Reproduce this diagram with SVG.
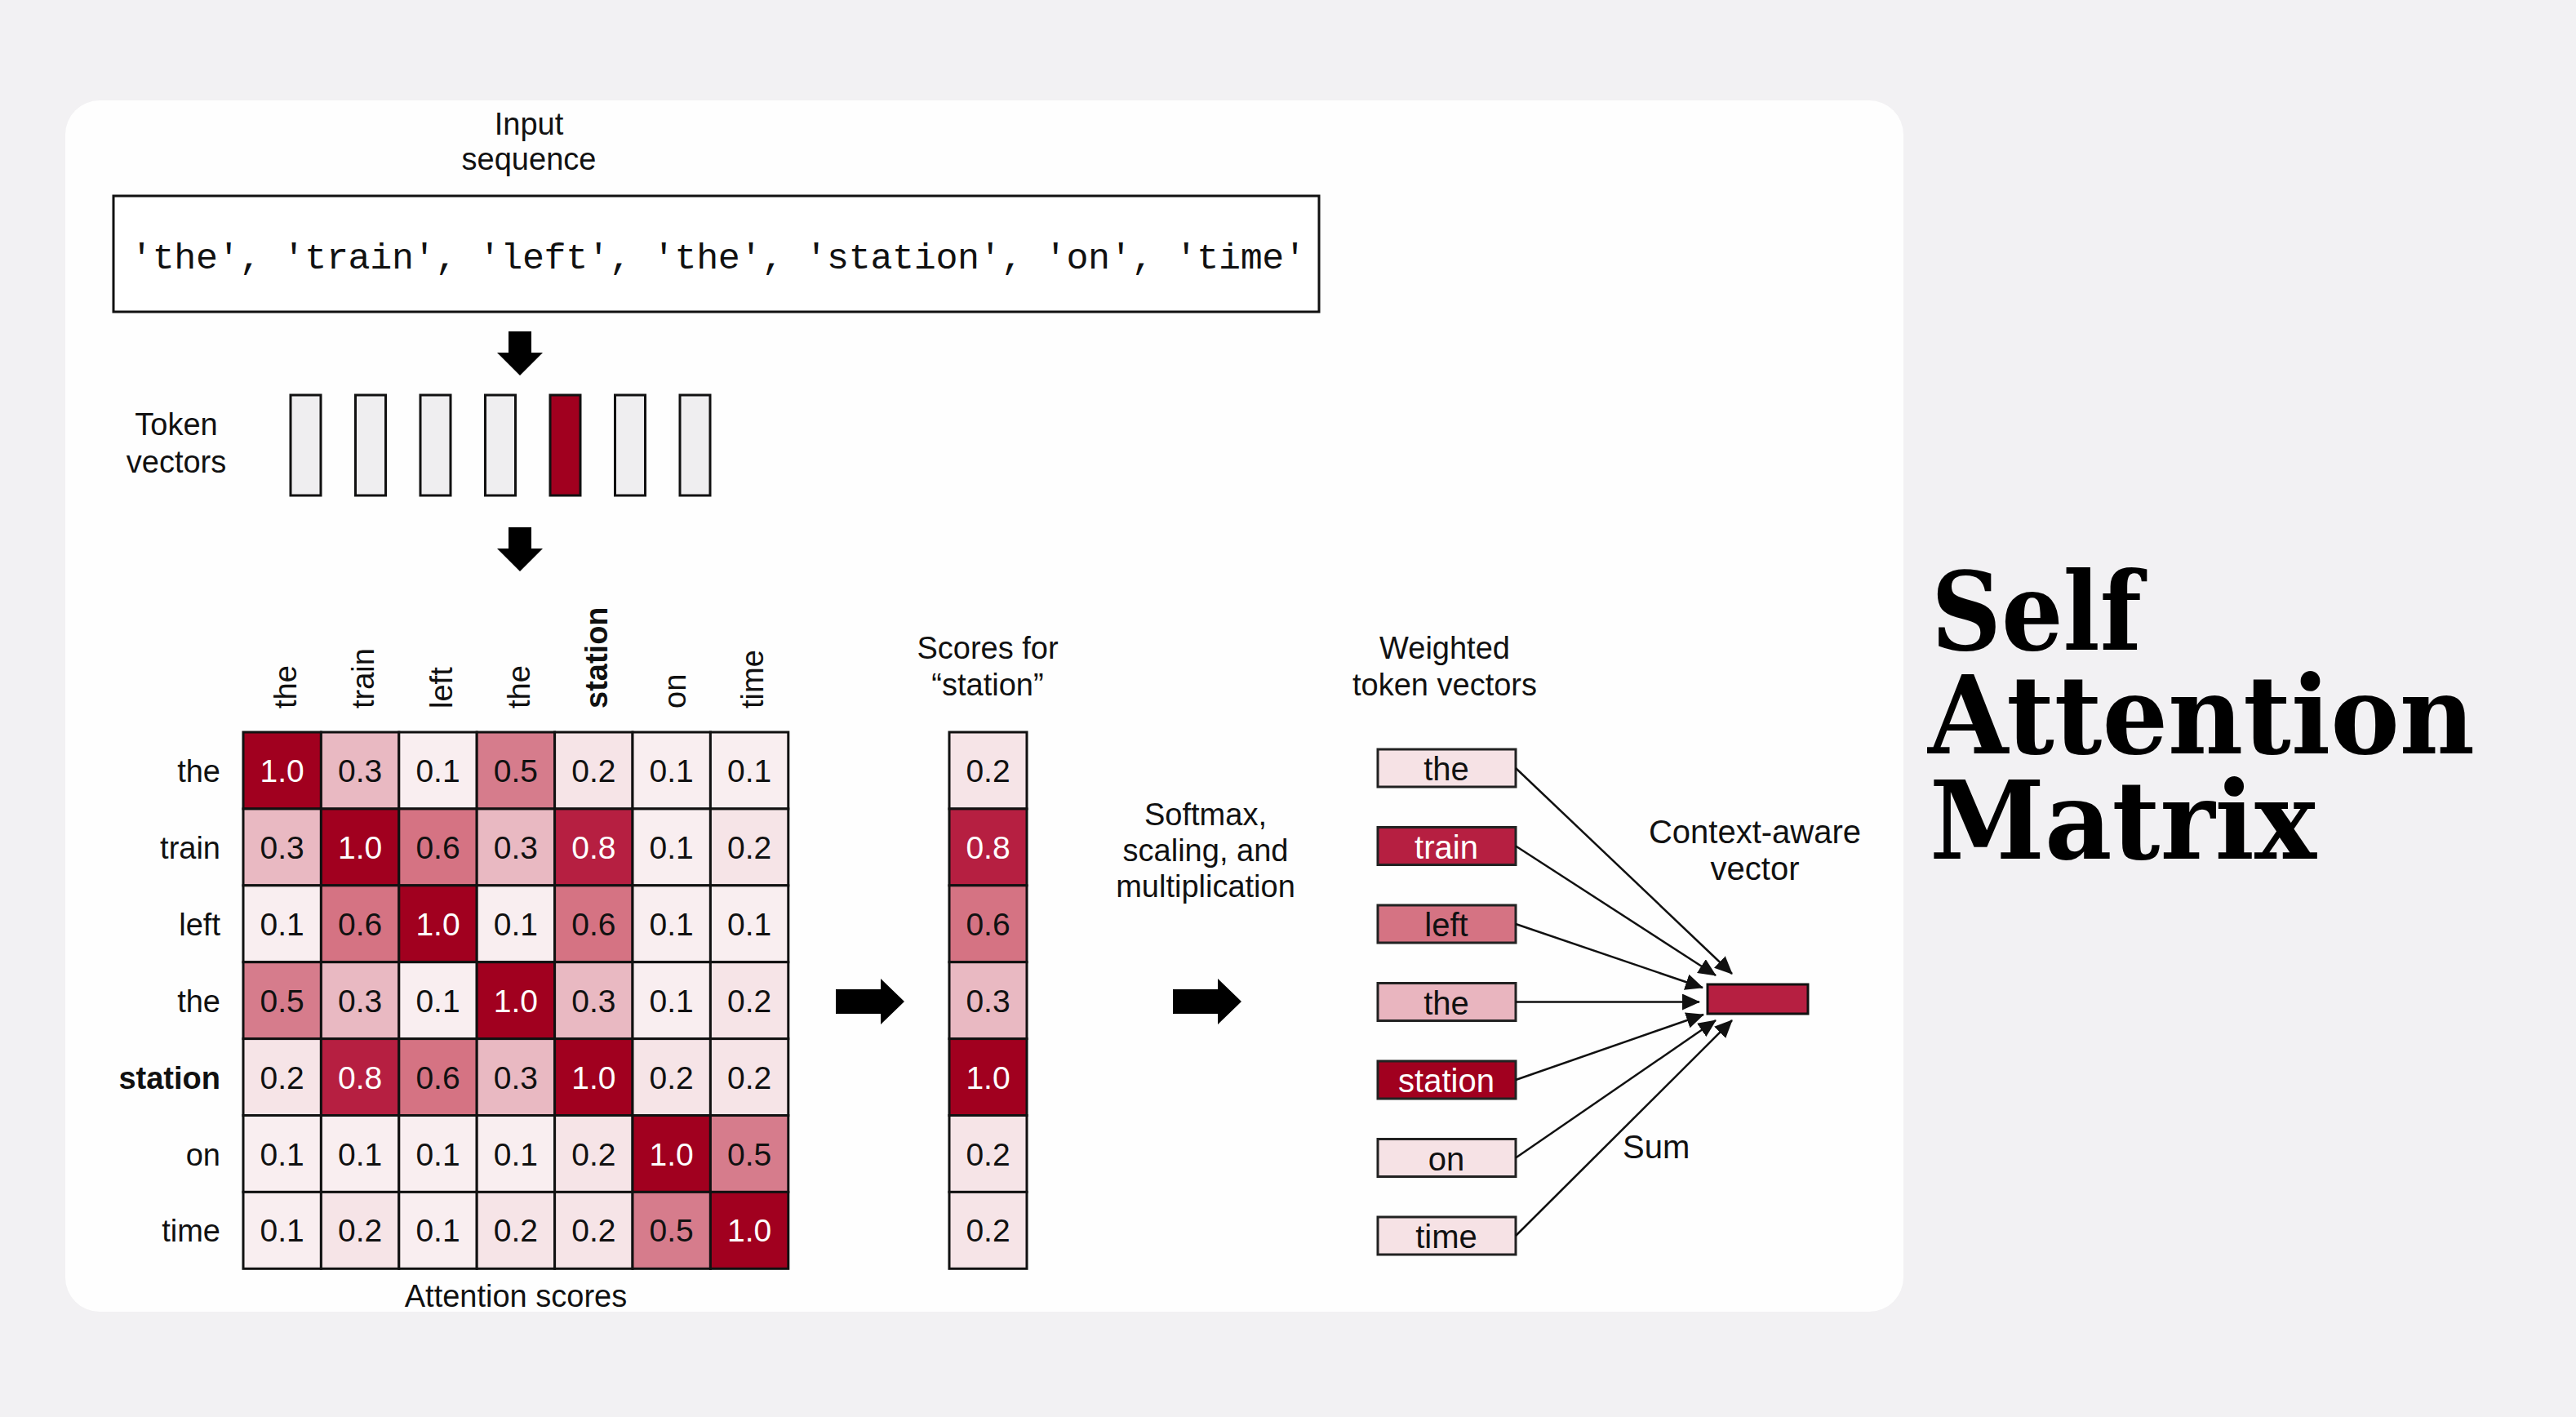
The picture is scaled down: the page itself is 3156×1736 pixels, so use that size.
<svg xmlns="http://www.w3.org/2000/svg" width="3156" height="1736" viewBox="0 0 3156 1736">
<defs>
<style>
text{font-family:"Liberation Sans",Arial,sans-serif;fill:#111;}
.lbl{font-size:38px;text-anchor:middle;}
.rl{font-size:38px;text-anchor:end;}
.ch{font-size:38px;}
.b{font-weight:bold;}
.num{font-size:39px;text-anchor:middle;}
.w{fill:#fff;}
.c{stroke:#111;stroke-width:3;}
.v10{fill:#a1001f;}
.v08{fill:#b61f41;}
.v06{fill:#d57383;}
.v05{fill:#d67c8c;}
.v03{fill:#e9b9c2;}
.v02{fill:#f6e4e7;}
.v01{fill:#f9eef0;}
.tv{fill:#efeef0;stroke:#111;stroke-width:3;}
.wb{stroke:#222;stroke-width:3;}
.wt{font-size:40px;text-anchor:middle;}
.conn{stroke:#111;stroke-width:2.5;fill:none;marker-end:url(#ah);}
.title{font-family:"DejaVu Serif","Liberation Serif",serif;font-weight:bold;font-size:132px;fill:#000;}
</style>
<marker id="ah" markerUnits="userSpaceOnUse" markerWidth="22" markerHeight="20" viewBox="0 0 22 20" refX="21" refY="10" orient="auto">
<path d="M0,0 L22,10 L0,20 Z" fill="#111"/>
</marker>
</defs>
<rect x="0" y="0" width="3156" height="1736" fill="#f2f1f3"/>
<rect id="card" x="80" y="123" width="2252" height="1484" rx="42" ry="42" fill="#fefefe"/>

<g id="input-label">
<text class="lbl" x="648" y="165">Input</text>
<text class="lbl" x="648" y="208">sequence</text>
</g>
<g id="input-sequence">
<rect x="139" y="240" width="1477" height="142" fill="#fff" stroke="#111" stroke-width="3"/>
<text x="160" y="329" textLength="1440" lengthAdjust="spacing" style="font-family:'Liberation Mono','Courier New',monospace;font-size:45px;">'the', 'train', 'left', 'the', 'station', 'on', 'time'</text>
</g>

<g id="arrow-down-1">
<path d="M623,406 H651 V432 H665 L637,460 L609,432 H623 Z" fill="#000"/>
</g>

<g id="token-vectors-label">
<text class="lbl" x="216" y="533">Token</text>
<text class="lbl" x="216" y="579">vectors</text>
</g>
<g id="token-vectors">
<rect class="tv" x="356" y="484" width="37" height="123"/>
<rect class="tv" x="435.5" y="484" width="37" height="123"/>
<rect class="tv" x="515" y="484" width="37" height="123"/>
<rect class="tv" x="594.5" y="484" width="37" height="123"/>
<rect class="tv" x="674" y="484" width="37" height="123" style="fill:#a1001f"/>
<rect class="tv" x="753.5" y="484" width="37" height="123"/>
<rect class="tv" x="833" y="484" width="37" height="123"/>
</g>

<g id="arrow-down-2">
<path d="M623,646 H651 V672 H665 L637,700 L609,672 H623 Z" fill="#000"/>
</g>

<g id="column-headers">
<text class="ch" transform="translate(362.7,868) rotate(-90)">the</text>
<text class="ch" transform="translate(458.1,868) rotate(-90)">train</text>
<text class="ch" transform="translate(553.5,868) rotate(-90)">left</text>
<text class="ch" transform="translate(648.9,868) rotate(-90)">the</text>
<text class="ch b" transform="translate(744.3,868) rotate(-90)">station</text>
<text class="ch" transform="translate(839.7,868) rotate(-90)">on</text>
<text class="ch" transform="translate(935.1,868) rotate(-90)">time</text>
</g>

<g id="row-headers">
<text class="rl" x="270" y="958">the</text>
<text class="rl" x="270" y="1051.9">train</text>
<text class="rl" x="270" y="1145.8">left</text>
<text class="rl" x="270" y="1239.7">the</text>
<text class="rl b" x="270" y="1333.6">station</text>
<text class="rl" x="270" y="1427.5">on</text>
<text class="rl" x="270" y="1521.4">time</text>
</g>

<g id="attention-matrix">
<rect class="c v10" x="298" y="897" width="95.4" height="93.9"/>
<rect class="c v03" x="393.4" y="897" width="95.4" height="93.9"/>
<rect class="c v01" x="488.8" y="897" width="95.4" height="93.9"/>
<rect class="c v05" x="584.2" y="897" width="95.4" height="93.9"/>
<rect class="c v02" x="679.6" y="897" width="95.4" height="93.9"/>
<rect class="c v01" x="775" y="897" width="95.4" height="93.9"/>
<rect class="c v01" x="870.4" y="897" width="95.4" height="93.9"/>
<rect class="c v03" x="298" y="990.9" width="95.4" height="93.9"/>
<rect class="c v10" x="393.4" y="990.9" width="95.4" height="93.9"/>
<rect class="c v06" x="488.8" y="990.9" width="95.4" height="93.9"/>
<rect class="c v03" x="584.2" y="990.9" width="95.4" height="93.9"/>
<rect class="c v08" x="679.6" y="990.9" width="95.4" height="93.9"/>
<rect class="c v01" x="775" y="990.9" width="95.4" height="93.9"/>
<rect class="c v02" x="870.4" y="990.9" width="95.4" height="93.9"/>
<rect class="c v01" x="298" y="1084.8" width="95.4" height="93.9"/>
<rect class="c v06" x="393.4" y="1084.8" width="95.4" height="93.9"/>
<rect class="c v10" x="488.8" y="1084.8" width="95.4" height="93.9"/>
<rect class="c v01" x="584.2" y="1084.8" width="95.4" height="93.9"/>
<rect class="c v06" x="679.6" y="1084.8" width="95.4" height="93.9"/>
<rect class="c v01" x="775" y="1084.8" width="95.4" height="93.9"/>
<rect class="c v01" x="870.4" y="1084.8" width="95.4" height="93.9"/>
<rect class="c v05" x="298" y="1178.7" width="95.4" height="93.9"/>
<rect class="c v03" x="393.4" y="1178.7" width="95.4" height="93.9"/>
<rect class="c v01" x="488.8" y="1178.7" width="95.4" height="93.9"/>
<rect class="c v10" x="584.2" y="1178.7" width="95.4" height="93.9"/>
<rect class="c v03" x="679.6" y="1178.7" width="95.4" height="93.9"/>
<rect class="c v01" x="775" y="1178.7" width="95.4" height="93.9"/>
<rect class="c v02" x="870.4" y="1178.7" width="95.4" height="93.9"/>
<rect class="c v02" x="298" y="1272.6" width="95.4" height="93.9"/>
<rect class="c v08" x="393.4" y="1272.6" width="95.4" height="93.9"/>
<rect class="c v06" x="488.8" y="1272.6" width="95.4" height="93.9"/>
<rect class="c v03" x="584.2" y="1272.6" width="95.4" height="93.9"/>
<rect class="c v10" x="679.6" y="1272.6" width="95.4" height="93.9"/>
<rect class="c v02" x="775" y="1272.6" width="95.4" height="93.9"/>
<rect class="c v02" x="870.4" y="1272.6" width="95.4" height="93.9"/>
<rect class="c v01" x="298" y="1366.5" width="95.4" height="93.9"/>
<rect class="c v01" x="393.4" y="1366.5" width="95.4" height="93.9"/>
<rect class="c v01" x="488.8" y="1366.5" width="95.4" height="93.9"/>
<rect class="c v01" x="584.2" y="1366.5" width="95.4" height="93.9"/>
<rect class="c v02" x="679.6" y="1366.5" width="95.4" height="93.9"/>
<rect class="c v10" x="775" y="1366.5" width="95.4" height="93.9"/>
<rect class="c v05" x="870.4" y="1366.5" width="95.4" height="93.9"/>
<rect class="c v01" x="298" y="1460.4" width="95.4" height="93.9"/>
<rect class="c v02" x="393.4" y="1460.4" width="95.4" height="93.9"/>
<rect class="c v01" x="488.8" y="1460.4" width="95.4" height="93.9"/>
<rect class="c v02" x="584.2" y="1460.4" width="95.4" height="93.9"/>
<rect class="c v02" x="679.6" y="1460.4" width="95.4" height="93.9"/>
<rect class="c v05" x="775" y="1460.4" width="95.4" height="93.9"/>
<rect class="c v10" x="870.4" y="1460.4" width="95.4" height="93.9"/>

<text class="num w" x="345.7" y="958">1.0</text>
<text class="num" x="441.1" y="958">0.3</text>
<text class="num" x="536.5" y="958">0.1</text>
<text class="num" x="631.9" y="958">0.5</text>
<text class="num" x="727.3" y="958">0.2</text>
<text class="num" x="822.7" y="958">0.1</text>
<text class="num" x="918.1" y="958">0.1</text>

<text class="num" x="345.7" y="1051.9">0.3</text>
<text class="num w" x="441.1" y="1051.9">1.0</text>
<text class="num" x="536.5" y="1051.9">0.6</text>
<text class="num" x="631.9" y="1051.9">0.3</text>
<text class="num w" x="727.3" y="1051.9">0.8</text>
<text class="num" x="822.7" y="1051.9">0.1</text>
<text class="num" x="918.1" y="1051.9">0.2</text>

<text class="num" x="345.7" y="1145.8">0.1</text>
<text class="num" x="441.1" y="1145.8">0.6</text>
<text class="num w" x="536.5" y="1145.8">1.0</text>
<text class="num" x="631.9" y="1145.8">0.1</text>
<text class="num" x="727.3" y="1145.8">0.6</text>
<text class="num" x="822.7" y="1145.8">0.1</text>
<text class="num" x="918.1" y="1145.8">0.1</text>

<text class="num" x="345.7" y="1239.7">0.5</text>
<text class="num" x="441.1" y="1239.7">0.3</text>
<text class="num" x="536.5" y="1239.7">0.1</text>
<text class="num w" x="631.9" y="1239.7">1.0</text>
<text class="num" x="727.3" y="1239.7">0.3</text>
<text class="num" x="822.7" y="1239.7">0.1</text>
<text class="num" x="918.1" y="1239.7">0.2</text>

<text class="num" x="345.7" y="1333.6">0.2</text>
<text class="num w" x="441.1" y="1333.6">0.8</text>
<text class="num" x="536.5" y="1333.6">0.6</text>
<text class="num" x="631.9" y="1333.6">0.3</text>
<text class="num w" x="727.3" y="1333.6">1.0</text>
<text class="num" x="822.7" y="1333.6">0.2</text>
<text class="num" x="918.1" y="1333.6">0.2</text>

<text class="num" x="345.7" y="1427.5">0.1</text>
<text class="num" x="441.1" y="1427.5">0.1</text>
<text class="num" x="536.5" y="1427.5">0.1</text>
<text class="num" x="631.9" y="1427.5">0.1</text>
<text class="num" x="727.3" y="1427.5">0.2</text>
<text class="num w" x="822.7" y="1427.5">1.0</text>
<text class="num" x="918.1" y="1427.5">0.5</text>

<text class="num" x="345.7" y="1521.4">0.1</text>
<text class="num" x="441.1" y="1521.4">0.2</text>
<text class="num" x="536.5" y="1521.4">0.1</text>
<text class="num" x="631.9" y="1521.4">0.2</text>
<text class="num" x="727.3" y="1521.4">0.2</text>
<text class="num" x="822.7" y="1521.4">0.5</text>
<text class="num w" x="918.1" y="1521.4">1.0</text>
</g>
<g id="attention-scores-label">
<text class="lbl" x="632" y="1601">Attention scores</text>
</g>

<g id="arrow-right-1">
<path d="M1024,1212 H1079 V1199 L1108,1227 L1079,1255 V1242 H1024 Z" fill="#000"/>
</g>

<g id="scores-label">
<text class="lbl" x="1210" y="807">Scores for</text>
<text class="lbl" x="1210" y="852">“station”</text>
</g>
<g id="scores-column">
<rect class="c v02" x="1163" y="897" width="95" height="93.9"/>
<rect class="c v08" x="1163" y="990.9" width="95" height="93.9"/>
<rect class="c v06" x="1163" y="1084.8" width="95" height="93.9"/>
<rect class="c v03" x="1163" y="1178.7" width="95" height="93.9"/>
<rect class="c v10" x="1163" y="1272.6" width="95" height="93.9"/>
<rect class="c v02" x="1163" y="1366.5" width="95" height="93.9"/>
<rect class="c v02" x="1163" y="1460.4" width="95" height="93.9"/>
<text class="num" x="1210.5" y="958">0.2</text>
<text class="num w" x="1210.5" y="1051.9">0.8</text>
<text class="num" x="1210.5" y="1145.8">0.6</text>
<text class="num" x="1210.5" y="1239.7">0.3</text>
<text class="num w" x="1210.5" y="1333.6">1.0</text>
<text class="num" x="1210.5" y="1427.5">0.2</text>
<text class="num" x="1210.5" y="1521.4">0.2</text>
</g>

<g id="softmax-label">
<text class="lbl" x="1477" y="1011">Softmax,</text>
<text class="lbl" x="1477" y="1055">scaling, and</text>
<text class="lbl" x="1477" y="1099">multiplication</text>
</g>
<g id="arrow-right-2">
<path d="M1437,1212 H1492 V1199 L1521,1227 L1492,1255 V1242 H1437 Z" fill="#000"/>
</g>

<g id="weighted-label">
<text class="lbl" x="1770" y="807">Weighted</text>
<text class="lbl" x="1770" y="852">token vectors</text>
</g>

<g id="w-the-1"><rect class="wb" x="1688" y="918" width="169" height="46" fill="#f6e2e5"/><text class="wt" x="1772" y="956">the</text></g>
<g id="w-train"><rect class="wb" x="1688" y="1013.5" width="169" height="46" fill="#b61f41"/><text class="wt w" x="1772" y="1051.5">train</text></g>
<g id="w-left"><rect class="wb" x="1688" y="1109" width="169" height="46" fill="#d57383"/><text class="wt" x="1772" y="1147">left</text></g>
<g id="w-the-2"><rect class="wb" x="1688" y="1204.5" width="169" height="46" fill="#e9b5bf"/><text class="wt" x="1772" y="1242.5">the</text></g>
<g id="w-station"><rect class="wb" x="1688" y="1300" width="169" height="46" fill="#a1001f"/><text class="wt w" x="1772" y="1338">station</text></g>
<g id="w-on"><rect class="wb" x="1688" y="1395.5" width="169" height="46" fill="#f6e2e5"/><text class="wt" x="1772" y="1433.5">on</text></g>
<g id="w-time"><rect class="wb" x="1688" y="1491" width="169" height="46" fill="#f6e2e5"/><text class="wt" x="1772" y="1529">time</text></g>

<g id="connectors">
<line class="conn" x1="1857" y1="941" x2="2122" y2="1193"/>
<line class="conn" x1="1857" y1="1036.5" x2="2102" y2="1195"/>
<line class="conn" x1="1857" y1="1132" x2="2086" y2="1210"/>
<line class="conn" x1="1857" y1="1227.5" x2="2082" y2="1227.5"/>
<line class="conn" x1="1857" y1="1323" x2="2087" y2="1243"/>
<line class="conn" x1="1857" y1="1418.5" x2="2102" y2="1250"/>
<line class="conn" x1="1857" y1="1514" x2="2122" y2="1250"/>
</g>

<g id="context-vector">
<rect x="2092" y="1206" width="123" height="36" fill="#b61f41" stroke="#111" stroke-width="3"/>
</g>
<g id="context-label">
<text class="lbl" x="2150" y="1033" style="font-size:40px">Context-aware</text>
<text class="lbl" x="2150" y="1078" style="font-size:40px">vector</text>
</g>
<g id="sum-label">
<text x="1988" y="1419" style="font-size:40px">Sum</text>
</g>

<g id="title">
<text class="title" x="2366" y="796" textLength="258" lengthAdjust="spacingAndGlyphs">Self</text>
<text class="title" x="2362" y="923" textLength="670" lengthAdjust="spacingAndGlyphs">Attention</text>
<text class="title" x="2364" y="1052" textLength="474" lengthAdjust="spacingAndGlyphs">Matrix</text>
</g>
</svg>
